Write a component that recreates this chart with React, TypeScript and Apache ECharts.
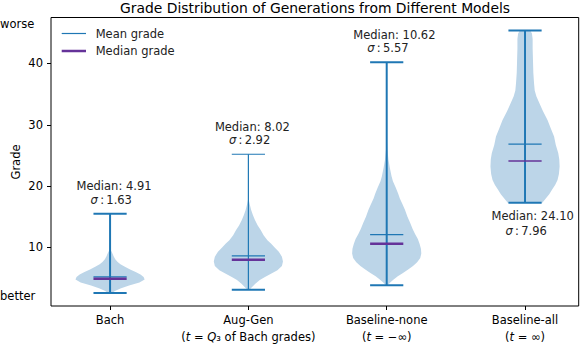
import React, { useEffect, useRef } from 'react';
import * as echarts from 'echarts';

const categories = ['Bach', 'Aug-Gen', 'Baseline-none', 'Baseline-all'];
const categoryNotes = [
  '',
  '{p|(}{i|t}{p| = }{i|Q}{p|₃ of Bach grades)}',
  '{p|(}{i|t}{p| = −∞)}',
  '{p|(}{i|t}{p| = ∞)}',
];
const positions = [1, 2, 3, 4];
const minGrades = [2.57, 3.12, 3.83, 17.3];
const maxGrades = [15.5, 25.2, 40.2, 45.4];
const meanGrades = [5.2, 8.63, 12.1, 26.85];
const medianGrades = [4.91, 8.02, 10.62, 24.1];
const sigmaGrades = [1.63, 2.92, 5.57, 7.96];
const yTicks = [10, 20, 30, 40];

// [grade, relative half-width]
const bachDensity = [
  [2.57, 0.06], [2.9, 0.14], [3.3, 0.3], [3.8, 0.55], [4.3, 0.85], [4.8, 1.0], [5.2, 0.97],
  [5.6, 0.88], [6.0, 0.74], [6.4, 0.58], [6.85, 0.43], [7.25, 0.3], [7.65, 0.22], [8.1, 0.15],
  [8.5, 0.11], [9.0, 0.07], [9.6, 0.02], [11.0, 0.005], [15.5, 0.0],
];
const augGenDensity = [
  [3.12, 0.03], [3.5, 0.1], [4.1, 0.2], [4.7, 0.33], [5.2, 0.48], [5.8, 0.68], [6.3, 0.84],
  [7.0, 0.97], [7.7, 1.0], [8.5, 0.97], [9.3, 0.88], [10.0, 0.76], [10.6, 0.66], [11.2, 0.55],
  [12.0, 0.44], [12.8, 0.36], [13.6, 0.27], [14.5, 0.19], [15.3, 0.13], [16.1, 0.08],
  [17.0, 0.04], [17.8, 0.01], [25.2, 0.0],
];
const noneDensity = [
  [3.83, 0.03], [4.3, 0.1], [4.8, 0.2], [5.3, 0.32], [5.8, 0.46], [6.4, 0.62], [7.0, 0.76],
  [7.6, 0.88], [8.3, 0.97], [9.0, 1.0], [9.8, 0.99], [10.6, 0.95], [11.4, 0.9], [12.2, 0.82],
  [13.0, 0.75], [14.0, 0.68], [15.0, 0.6], [16.1, 0.53], [17.0, 0.46], [18.0, 0.38],
  [18.8, 0.33], [19.8, 0.26], [20.8, 0.18], [21.6, 0.14], [23.0, 0.09], [24.3, 0.05],
  [26.0, 0.02], [28.1, 0.003], [40.2, 0.0],
];
const allDensity = [
  [17.3, 0.5], [18.0, 0.6], [18.7, 0.7], [19.4, 0.78], [20.2, 0.87], [21.0, 0.94], [22.0, 0.98],
  [23.2, 1.0], [24.4, 0.99], [25.4, 0.96], [26.7, 0.89], [28.1, 0.84], [29.5, 0.74], [30.8, 0.65],
  [32.2, 0.52], [33.6, 0.41], [34.6, 0.33], [35.6, 0.28], [36.8, 0.26], [38.5, 0.24],
  [40.5, 0.23], [42.5, 0.22], [44.0, 0.22], [44.9, 0.2], [45.4, 0.15],
];
const densities = [bachDensity, augGenDensity, noneDensity, allDensity];

const FONT = 'DejaVu Sans';
const BLUE = '#1f77b4';
const FILL = '#bcd5e8';
const PURPLE = '#653399';
const HALF = 0.25;
const CAP = 0.12;
const mainWidths = [2, 1.2, 2, 2];
const medianWidths = [2.5, 2.5, 2.5, 1.3];

function renderViolin(params: any, api: any) {
  const i = api.value(2);
  const pos = positions[i];
  const prof = densities[i];
  const right = prof.map(([g, w]) => api.coord([pos + w * HALF, g]));
  const left = prof.slice().reverse().map(([g, w]) => api.coord([pos - w * HALF, g]));
  const hLine = (y: number, color: string, lw: number) => {
    const a = api.coord([pos - CAP, y]);
    const b = api.coord([pos + CAP, y]);
    return { type: 'line', shape: { x1: a[0], y1: a[1], x2: b[0], y2: b[1] }, style: { stroke: color, lineWidth: lw } };
  };
  const top = api.coord([pos, maxGrades[i]]);
  const bot = api.coord([pos, minGrades[i]]);
  const below = maxGrades[i] > 42;
  const medY = below ? bot[1] + 13.6 : top[1] - 27.5;
  const sigY = below ? bot[1] + 28.3 : top[1] - 14;
  const textStyle = { fontFamily: FONT, fontSize: 11.5, fill: '#222' };
  return {
    type: 'group',
    children: [
      { type: 'polygon', shape: { points: [...right, ...left] }, style: { fill: FILL, stroke: 'none' } },
      { type: 'line', shape: { x1: top[0], y1: top[1], x2: bot[0], y2: bot[1] }, style: { stroke: BLUE, lineWidth: mainWidths[i] } },
      hLine(maxGrades[i], BLUE, mainWidths[i]),
      hLine(minGrades[i], BLUE, 2),
      hLine(meanGrades[i], BLUE, 1.2),
      hLine(medianGrades[i], PURPLE, medianWidths[i]),
      {
        type: 'text',
        style: { ...textStyle, text: 'Median: ' + medianGrades[i].toFixed(2), x: top[0] - 33.5, y: medY, align: 'left', verticalAlign: 'middle' },
      },
      {
        type: 'text',
        style: {
          ...textStyle,
          text: '{i|σ}{n|\u2009:\u2009' + sigmaGrades[i].toFixed(2) + '}',
          x: top[0] - 19.5,
          y: sigY,
          align: 'left',
          verticalAlign: 'middle',
          rich: {
            i: { fontFamily: FONT, fontSize: 11.5, fontStyle: 'italic', fill: '#222' },
            n: { fontFamily: FONT, fontSize: 11.5, fill: '#222' },
          },
        },
      },
    ],
  };
}

const labelRich = {
  n: { fontFamily: FONT, fontSize: 11.5, color: '#000', lineHeight: 17 },
  p: { fontFamily: FONT, fontSize: 11.5, color: '#000', lineHeight: 17 },
  i: { fontFamily: FONT, fontSize: 11.5, color: '#000', lineHeight: 17, fontStyle: 'italic' },
};

const option: any = {
  animation: false,
  backgroundColor: '#fff',
  grid: { left: 51, right: 5.3, top: 17.5, bottom: 38, show: true, borderColor: '#000', borderWidth: 1, backgroundColor: 'transparent' },
  xAxis: {
    type: 'value',
    min: 0.573,
    max: 4.388,
    splitLine: { show: false },
    axisLine: { show: false },
    axisTick: { show: true, customValues: positions, length: 4, lineStyle: { color: '#000' } },
    axisLabel: {
      customValues: positions,
      margin: 5,
      formatter: (v: number) => {
        const i = positions.indexOf(v);
        if (i < 0) return '';
        return '{n|' + categories[i] + '}' + (categoryNotes[i] ? '\n' + categoryNotes[i] : '');
      },
      rich: labelRich,
    },
  },
  yAxis: {
    type: 'value',
    min: 0.46,
    max: 47.5,
    splitLine: { show: false },
    axisLine: { show: false },
    axisTick: { show: true, customValues: yTicks, length: 4, lineStyle: { color: '#000' } },
    axisLabel: { customValues: yTicks, margin: 8, fontFamily: FONT, fontSize: 11.5, color: '#000' },
  },
  series: [
    {
      type: 'custom',
      renderItem: renderViolin,
      data: positions.map((p, i) => [p, medianGrades[i], i]),
      encode: { x: 0, y: 1 },
      z: 2,
    },
  ],
  graphic: [
    { type: 'text', x: 315, y: 7.5, style: { text: 'Grade Distribution of Generations from Different Models', fontFamily: FONT, fontSize: 13.9, fill: '#000', align: 'center', verticalAlign: 'middle' } },
    { type: 'text', x: 0, y: 24, style: { text: 'worse', fontFamily: FONT, fontSize: 11.5, fill: '#000', align: 'left', verticalAlign: 'middle' } },
    { type: 'text', x: 0, y: 296, style: { text: 'better', fontFamily: FONT, fontSize: 11.5, fill: '#000', align: 'left', verticalAlign: 'middle' } },
    { type: 'text', x: 16, y: 162, rotation: Math.PI / 2, style: { text: 'Grade', fontFamily: FONT, fontSize: 11.5, fill: '#000', align: 'center', verticalAlign: 'middle' } },
    { type: 'line', shape: { x1: 61.7, y1: 33.5, x2: 86, y2: 33.5 }, style: { stroke: BLUE, lineWidth: 1.2 } },
    { type: 'line', shape: { x1: 61.7, y1: 51, x2: 86, y2: 51 }, style: { stroke: PURPLE, lineWidth: 2.5 } },
    { type: 'text', x: 95.7, y: 33.5, style: { text: 'Mean grade', fontFamily: FONT, fontSize: 11.5, fill: '#222', align: 'left', verticalAlign: 'middle' } },
    { type: 'text', x: 95.7, y: 51, style: { text: 'Median grade', fontFamily: FONT, fontSize: 11.5, fill: '#222', align: 'left', verticalAlign: 'middle' } },
  ],
};

export default function App() {
  const ref = useRef<HTMLDivElement>(null);
  useEffect(() => {
    const chart = echarts.init(ref.current!, null, { renderer: 'svg' });
    chart.setOption(option);
    return () => chart.dispose();
  }, []);
  return <div ref={ref} style={{ position: 'fixed', left: 0, top: 0, width: 584, height: 344, background: '#fff' }} />;
}
